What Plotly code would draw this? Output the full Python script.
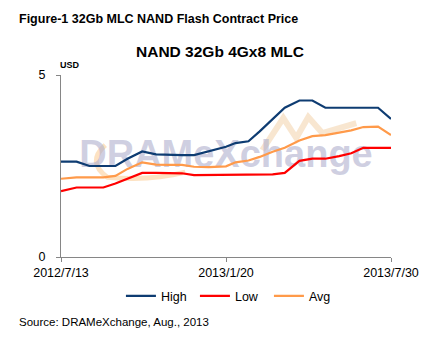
import plotly.graph_objects as go

# Semi-monthly contract price dates
dates = [
    "2012-07-13", "2012-07-31", "2012-08-15", "2012-08-31", "2012-09-14",
    "2012-09-28", "2012-10-15", "2012-10-31", "2012-11-15", "2012-11-30",
    "2012-12-14", "2012-12-31", "2013-01-20", "2013-01-31", "2013-02-15",
    "2013-02-28", "2013-03-15", "2013-03-29", "2013-04-15", "2013-04-30",
    "2013-05-15", "2013-05-31", "2013-06-14", "2013-06-28", "2013-07-15",
    "2013-07-30",
]

high = [2.62, 2.62, 2.50, 2.50, 2.50, 2.70, 2.90, 2.82, 2.80, 2.80,
        2.80, 2.90, 3.03, 3.13, 3.18, 3.45, 3.78, 4.10, 4.30, 4.30,
        4.10, 4.10, 4.10, 4.10, 4.10, 3.79]
low = [1.81, 1.91, 1.91, 1.91, 2.02, 2.15, 2.31, 2.31, 2.31, 2.30,
       2.25, 2.25, 2.25, 2.25, 2.25, 2.25, 2.27, 2.31, 2.64, 2.70,
       2.70, 2.77, 2.85, 3.00, 3.00, 3.00]
avg = [2.15, 2.19, 2.19, 2.19, 2.23, 2.42, 2.60, 2.54, 2.53, 2.53,
       2.48, 2.47, 2.49, 2.60, 2.65, 2.75, 2.89, 3.00, 3.20, 3.32,
       3.35, 3.42, 3.48, 3.57, 3.58, 3.35]

tick_dates = ["2012-07-13", "2013-01-20", "2013-07-30"]
tick_text = ["2012/7/13", "2013/1/20", "2013/7/30"]

FONT = "Arial, Liberation Sans, sans-serif"

# plot area in pixels (for placing decorations in paper units)
PX_L, PX_R, PX_T, PX_B = 60.7, 390.7, 75.0, 256.7


def px(x, y):
    return ((x - PX_L) / (PX_R - PX_L), (PX_B - y) / (PX_B - PX_T))


def path(points, cmds):
    out = []
    for c, (x, y) in zip(cmds, points):
        u, v = px(x, y)
        out.append(f"{c}{u:.4f},{v:.4f}")
    return " ".join(out)


fig = go.Figure()

# watermark text sits underneath the price lines
fig.add_trace(go.Scatter(
    x=["2013-01-20"], y=[2.74], mode="text", text=["<b>DRAMeXchange</b>"],
    textposition="middle center", hoverinfo="skip", showlegend=False,
    textfont=dict(family=FONT, size=38, color="rgba(175,175,205,0.6)"),
))

series = [("High", high, "#0E3C72"), ("Low", low, "#FF0000"), ("Avg", avg, "#FF9A4A")]
for name, vals, color in series:
    fig.add_trace(go.Scatter(
        x=dates, y=vals, name=name, mode="lines",
        line=dict(color=color, width=2.2),
    ))

# faint logo swoosh and rising arrow of the watermark
swoosh = path([(105, 145), (86, 162), (107, 177), (150, 181), (185, 172)],
              ["M", "Q", " ", "Q", " "])
arrow = path([(262, 150), (283, 118), (296, 138), (308, 117), (322, 133), (356, 123)],
             ["M", "L", "L", "L", "L", "L"])
shapes = [
    dict(type="path", xref="paper", yref="paper", path=swoosh, layer="below",
         line=dict(color="rgba(250,190,120,0.45)", width=5)),
    dict(type="path", xref="paper", yref="paper", path=arrow, layer="below",
         line=dict(color="rgba(240,200,150,0.45)", width=6)),
]

fig.update_layout(
    width=448, height=339,
    margin=dict(l=61, r=57, t=75, b=82),
    paper_bgcolor="white", plot_bgcolor="white",
    font=dict(family=FONT, color="#000000", size=12.5),
    showlegend=True,
    shapes=shapes,
    legend=dict(
        orientation="h", x=0.518, xanchor="center", y=-0.216, yanchor="middle",
        font=dict(size=12.5), itemwidth=30, entrywidth=29,
        bgcolor="rgba(0,0,0,0)",
    ),
    xaxis=dict(
        type="date",
        range=["2012-07-13", "2013-07-30"],
        tickvals=tick_dates, ticktext=tick_text,
        ticks="outside", ticklen=4, tickcolor="#868686",
        showline=True, linecolor="#868686", linewidth=1,
        showgrid=False, zeroline=False,
        tickfont=dict(size=12.5),
    ),
    yaxis=dict(
        range=[0, 5], tickvals=[0, 5], ticktext=["0", "5"],
        ticks="outside", ticklen=4, tickcolor="#868686",
        showline=True, linecolor="#868686", linewidth=1,
        showgrid=True, gridcolor="#BFBFBF", griddash="dot", gridwidth=1,
        zeroline=False, ticklabelstandoff=8,
        tickfont=dict(size=12.5),
    ),
    annotations=[
        dict(text="<b>Figure-1 32Gb MLC NAND Flash Contract Price</b>",
             xref="paper", yref="paper", x=(17 - PX_L) / 330, xanchor="left",
             y=1 + (75 - 19) / 181.7, yanchor="middle", showarrow=False,
             font=dict(size=12.5)),
        dict(text="<b>NAND 32Gb 4Gx8 MLC</b>",
             xref="paper", yref="paper", x=(219.5 - PX_L) / 330, xanchor="center",
             y=1 + (75 - 52) / 181.7, yanchor="middle", showarrow=False,
             font=dict(size=15.5)),
        dict(text="<b>USD</b>",
             xref="paper", yref="paper", x=(58 - PX_L) / 330, xanchor="left",
             y=1 + (75 - 65) / 181.7, yanchor="middle", showarrow=False,
             font=dict(size=9)),
        dict(text="Source: DRAMeXchange, Aug., 2013",
             xref="paper", yref="paper", x=(17 - PX_L) / 330, xanchor="left",
             y=(PX_B - 322) / 181.7, yanchor="middle", showarrow=False,
             font=dict(size=11.5)),
    ],
)

fig.write_html("out.html")
